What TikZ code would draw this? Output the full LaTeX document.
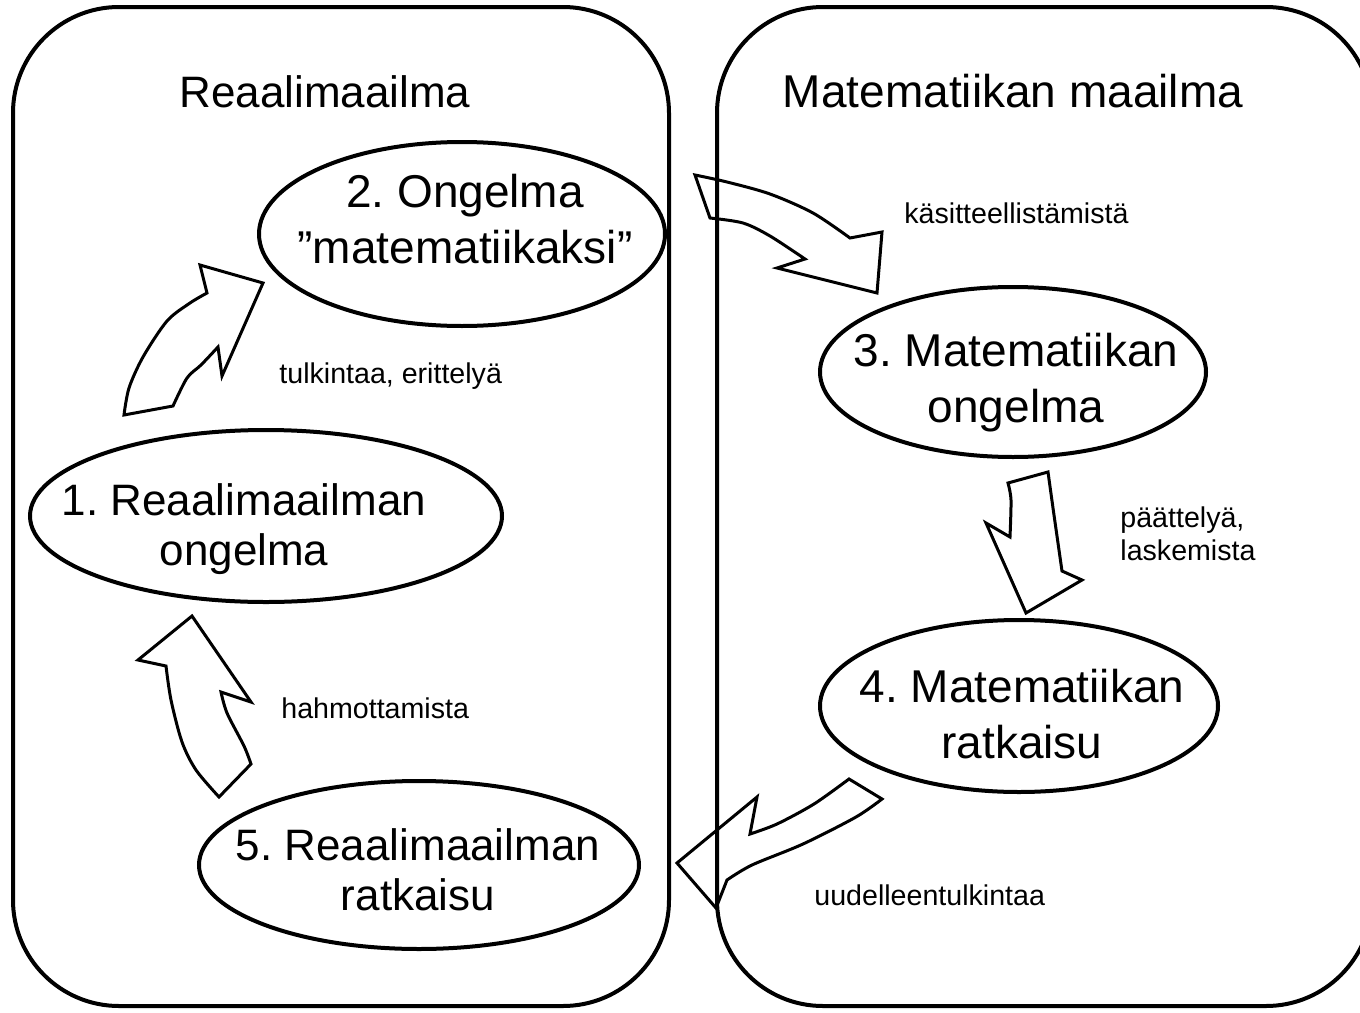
\documentclass[tikz,border=0pt]{standalone}
\usepackage{fontspec}
\setmainfont{Liberation Sans}
\frenchspacing
\usetikzlibrary{%
  shapes,% ellipse
  positioning,%
  calc%
}
\tikzset{
  world/.style={draw, line width=2pt, rounded corners=53pt},
  bubble/.style={draw, ellipse, line width=2pt, inner sep=0pt},
  flow/.style={draw, line width=1.5pt, line join=miter},
  bigtxt/.style={font=\fontsize{23}{28}\selectfont, align=center, inner sep=0pt},
  midtxt/.style={font=\fontsize{22}{25}\selectfont, align=center, inner sep=0pt},
  smalltxt/.style={font=\fontsize{14.3}{16.5}\selectfont, align=left, inner sep=0pt}
}
\begin{document}
\begin{tikzpicture}[x=0.5pt,y=-0.5pt]
\useasboundingbox (0,0) rectangle (1360,1012);
\clip (0,0) rectangle (1360,1012);

%The two worlds
\draw[world] (13,7) rectangle (669,1006);
\draw[world] (717,7) rectangle (1372,1006);
\node[bigtxt, anchor=base, font=\fontsize{22}{25}\selectfont] (real) at (325,107) {Reaalimaailma};
\node[bigtxt, anchor=base] (math) at (1013,107) {Matematiikan maailma};

%Steps of the cycle
\node[bubble, minimum width=236pt, minimum height=86pt] (p1) at (266,516) {};
\node[bubble, minimum width=203pt, minimum height=92pt] (p2) at (462,234) {};
\node[bubble, minimum width=193pt, minimum height=85pt] (p3) at (1013,372) {};
\node[bubble, minimum width=199pt, minimum height=86pt] (p4) at (1019,706) {};
\node[bubble, minimum width=220pt, minimum height=84pt] (p5) at (419,865) {};

\node[midtxt] (p1t) at (244,529) {1. Reaalimaailman\\ongelma};
\node[bigtxt] (p2t) at (465,219) {2. Ongelma\\”matematiikaksi”};
\node[bigtxt] (p3t) at (1016,383) {3. Matematiikan\\ongelma};
\node[bigtxt] (p4t) at (1022,714) {4. Matematiikan\\ratkaisu};
\node[midtxt] (p5t) at (418,870) {5. Reaalimaailman\\ratkaisu};

%Block arrows between the steps
\draw[flow] (222,376) -- (263,283) -- (200,265) -- plot[smooth] coordinates {(207,293) (190,303) (167,321) (143,357) (129,388) (124,415)}
  -- plot[smooth] coordinates {(173,406) (187,378) (201,365) (218,347)} -- cycle;
\draw[flow] plot[smooth] coordinates {(695,175) (727,182) (770,194) (813,213) (850,238)} -- (882,232) -- (877,293) -- (777,268)
  -- plot[smooth] coordinates {(805,259) (770,236) (743,223) (710,218)} -- cycle;
\draw[flow] (1008,483) -- plot[smooth] coordinates {(1048,472) (1053,508) (1059,550) (1062,571)} -- (1082,580) -- (1026,613) -- (986,523)
  -- plot[smooth] coordinates {(1010,537) (1011,500) (1008,483)} -- cycle;
\draw[flow] (849,779) -- plot[smooth] coordinates {(882,799) (856,817) (803,844) (752,865) (727,880)} -- (716,908) -- (677,863) -- (757,797)
  -- plot[smooth] coordinates {(750,834) (777,824) (814,804) (849,779)} -- cycle;
\draw[flow] (192,616) -- (138,660) -- plot[smooth] coordinates {(166,666) (171,700) (182,742) (196,770) (219,797)}
  -- plot[smooth] coordinates {(251,764) (244,746) (227,713) (221,692)} -- (251,702) -- cycle;

%Labels of the arrows
\node[smalltxt, anchor=base west] (l12) at (279,383) {tulkintaa, erittelyä};
\node[smalltxt, anchor=base west] (l23) at (904,223) {käsitteellistämistä};
\node[smalltxt, anchor=west] (l34) at (1120,534) {päättelyä,\\laskemista};
\node[smalltxt, anchor=base west] (l45) at (814,905) {uudelleentulkintaa};
\node[smalltxt, anchor=base west] (l51) at (281,718) {hahmottamista};
\end{tikzpicture}
\end{document}
